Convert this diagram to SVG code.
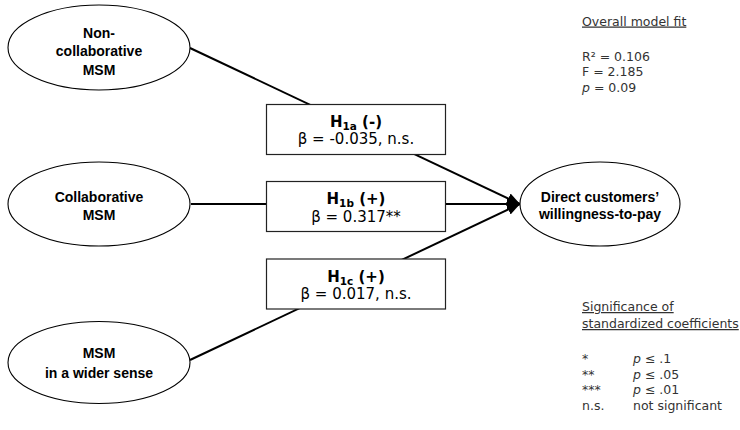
<svg xmlns="http://www.w3.org/2000/svg" width="740" height="430" viewBox="0 0 740 430">
  <style>
    .node ellipse { fill: #ffffff; stroke: #000000; stroke-width: 1.1; }
    .lbl { font-family: "Liberation Sans", Arial, sans-serif; font-size: 14px; font-weight: bold; fill: #000000; text-anchor: middle; }
    .hyp rect { fill: #ffffff; stroke: #222222; stroke-width: 1.2; }
    .hyp text { font-family: "DejaVu Sans", Verdana, sans-serif; font-size: 15px; fill: #000000; text-anchor: middle; }
    .hyp .h { font-weight: bold; }
    .sub { font-size: 10.5px; }
    .edge { stroke: #000000; stroke-width: 2; fill: none; marker-end: url(#arrow); }
    .note { font-family: "DejaVu Sans", Verdana, sans-serif; font-size: 12.5px; fill: #333333; }
    .u { text-decoration: underline; }
  </style>
  <defs>
    <marker id="arrow" markerUnits="userSpaceOnUse" markerWidth="14" markerHeight="12" refX="13" refY="6" orient="auto">
      <path d="M0,0.5 L13,6 L0,11.5 Z" fill="#000000"/>
    </marker>
  </defs>
  <rect width="740" height="430" fill="#ffffff"/>

  <!-- connectors -->
  <g id="connectors">
    <line class="edge" x1="190" y1="48" x2="520" y2="204"/>
    <line class="edge" x1="191" y1="204" x2="520" y2="204"/>
    <line class="edge" x1="190" y1="360" x2="520" y2="204"/>
  </g>

  <!-- predictor constructs -->
  <g id="node-noncollab" class="node">
    <ellipse cx="99" cy="47.5" rx="91" ry="42.5"/>
    <text class="lbl" x="99" y="38">Non-</text>
    <text class="lbl" x="99" y="56">collaborative</text>
    <text class="lbl" x="99" y="74.5">MSM</text>
  </g>
  <g id="node-collab" class="node">
    <ellipse cx="99" cy="204" rx="91" ry="42"/>
    <text class="lbl" x="99" y="201.5">Collaborative</text>
    <text class="lbl" x="99" y="219.5">MSM</text>
  </g>
  <g id="node-wider" class="node">
    <ellipse cx="99" cy="362.5" rx="91" ry="41"/>
    <text class="lbl" x="99" y="357.5">MSM</text>
    <text class="lbl" x="99" y="377.5">in a wider sense</text>
  </g>

  <!-- outcome construct -->
  <g id="node-wtp" class="node">
    <ellipse cx="600" cy="204" rx="80" ry="42"/>
    <text class="lbl" x="600" y="201.5">Direct customers’</text>
    <text class="lbl" x="600" y="219">willingness-to-pay</text>
  </g>

  <!-- hypothesis labels -->
  <g id="hyp-1a" class="hyp">
    <rect x="266.5" y="104.5" width="179" height="50"/>
    <text class="h" x="356" y="126.5">H<tspan class="sub" dy="3">1a</tspan><tspan dy="-3"> (-)</tspan></text>
    <text x="356" y="144">β = -0.035, n.s.</text>
  </g>
  <g id="hyp-1b" class="hyp">
    <rect x="266.5" y="181.5" width="179" height="50"/>
    <text class="h" x="356" y="204">H<tspan class="sub" dy="3">1b</tspan><tspan dy="-3"> (+)</tspan></text>
    <text x="356" y="221.5">β = 0.317**</text>
  </g>
  <g id="hyp-1c" class="hyp">
    <rect x="266.5" y="259" width="179" height="50"/>
    <text class="h" x="356" y="281.5">H<tspan class="sub" dy="3">1c</tspan><tspan dy="-3"> (+)</tspan></text>
    <text x="356" y="299">β = 0.017, n.s.</text>
  </g>

  <!-- model fit -->
  <g id="model-fit">
    <text class="note u" x="582" y="25.5">Overall model fit</text>
    <text class="note" x="582" y="60.5">R² = 0.106</text>
    <text class="note" x="582" y="76">F = 2.185</text>
    <text class="note" x="582" y="91.5"><tspan font-style="italic">p</tspan> = 0.09</text>
  </g>

  <!-- significance legend -->
  <g id="significance">
    <text class="note u" x="582" y="311">Significance of</text>
    <text class="note u" x="582" y="328">standardized coefficients</text>
    <text class="note" x="582" y="363">*</text>
    <text class="note" x="633" y="363"><tspan font-style="italic">p</tspan> ≤ .1</text>
    <text class="note" x="582" y="378.5">**</text>
    <text class="note" x="633" y="378.5"><tspan font-style="italic">p</tspan> ≤ .05</text>
    <text class="note" x="582" y="394">***</text>
    <text class="note" x="633" y="394"><tspan font-style="italic">p</tspan> ≤ .01</text>
    <text class="note" x="582" y="409.5">n.s.</text>
    <text class="note" x="633" y="409.5">not significant</text>
  </g>
</svg>
